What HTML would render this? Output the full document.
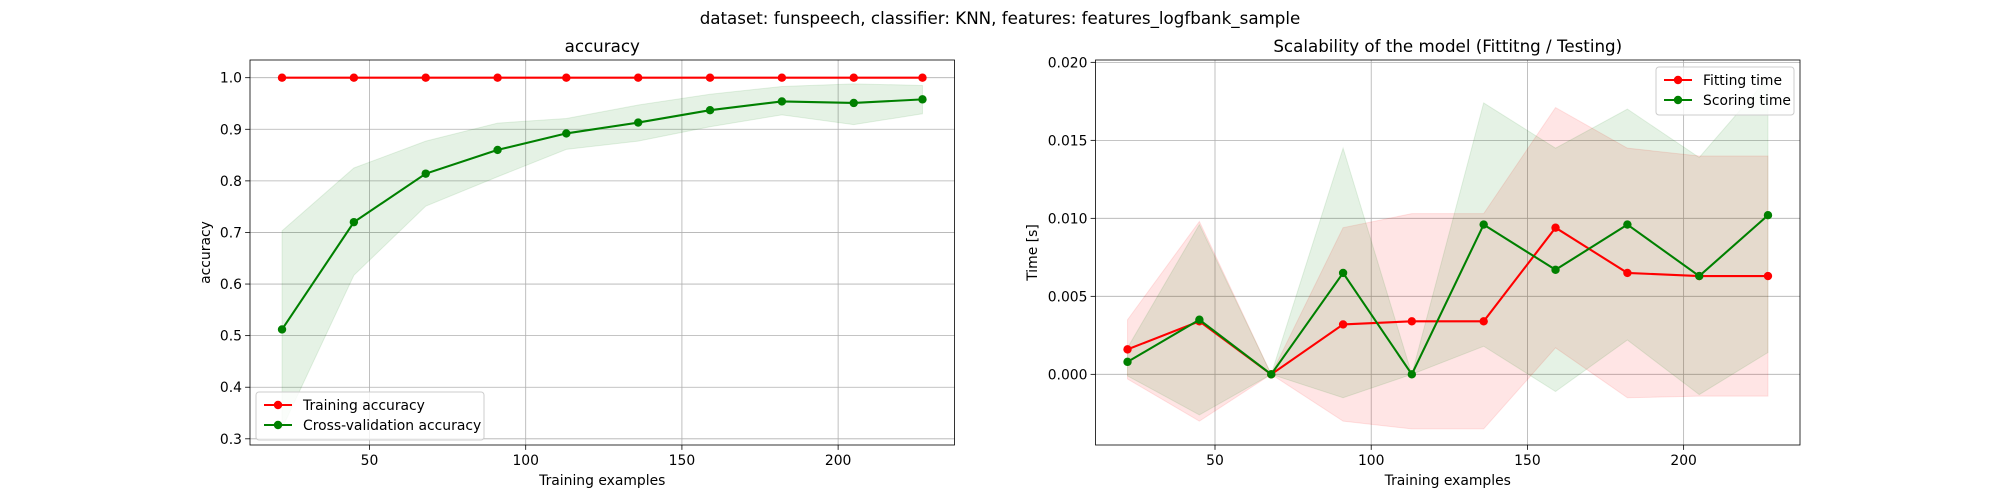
<!DOCTYPE html>
<html><head><meta charset="utf-8"><style>
body{margin:0;background:#fff;}
svg{display:block;font-family:"DejaVu Sans","Liberation Sans",sans-serif;}
</style></head><body>
<svg id="fig" width="2000" height="500" xmlns="http://www.w3.org/2000/svg">
<text x="1000" y="24" text-anchor="middle" font-size="16.7">dataset: funspeech, classifier: KNN, features: features_logfbank_sample</text>
</svg>
<script>
const sizes=[22,45,68,91,113,136,159,182,205,227];
const trainAcc=[1,1,1,1,1,1,1,1,1,1];
const trainUp=[1,1,1,1,1,1,1,1,1,1];
const trainLo=[1,1,1,1,1,1,1,1,1,1];
const cvAcc=[0.512,0.72,0.814,0.86,0.892,0.913,0.937,0.954,0.951,0.958];
const cvUp=[0.703,0.825,0.877,0.912,0.921,0.947,0.968,0.983,0.988,0.985];
const cvLo=[0.32,0.617,0.751,0.808,0.861,0.877,0.905,0.928,0.909,0.93];
const fitTime=[0.0016,0.0034,0.0,0.0032,0.0034,0.0034,0.0094,0.0065,0.0063,0.0063];
const fitUp=[0.0035,0.0098,0.0,0.0094,0.0103,0.0103,0.0171,0.0145,0.0140,0.0140];
const fitLo=[-0.0003,-0.003,0.0,-0.003,-0.0035,-0.0035,0.0017,-0.0015,-0.0014,-0.0014];
const scoreTime=[0.0008,0.0035,0.0,0.0065,0.0,0.0096,0.0067,0.0096,0.0063,0.0102];
const scoreUp=[0.0017,0.0096,0.0,0.0145,0.0,0.0174,0.0145,0.0170,0.0139,0.0190];
const scoreLo=[-0.0001,-0.0026,0.0,-0.0015,0.0,0.0018,-0.0011,0.0022,-0.0013,0.0014];
const xTicks=[50,100,150,200];
const accTicks=[0.3,0.4,0.5,0.6,0.7,0.8,0.9,1.0];
const timeTicks=[0,0.005,0.01,0.015,0.02];

const NS="http://www.w3.org/2000/svg";
const svg=document.getElementById('fig');
function el(tag,attrs,parent,txt){const e=document.createElementNS(NS,tag);for(const k in attrs)e.setAttribute(k,attrs[k]);if(txt!==undefined)e.textContent=txt;(parent||svg).appendChild(e);return e;}

function panel(cfg){
  const L=cfg.left,R=cfg.left+704.5,T=60,B=445;
  const sx=v=>L+(v-11.75)/(237.25-11.75)*(R-L);
  const sy=v=>B-(v-cfg.ymin)/(cfg.ymax-cfg.ymin)*(B-T);
  const g=el('g',{});
  
  
  const defs=el('clipPath',{id:cfg.name+'-clip'},g);
  el('rect',{x:L,y:T,width:R-L,height:B-T},defs);
  xTicks.forEach(t=>{
    const gl=el('line',{x1:sx(t),x2:sx(t),y1:T,y2:B,stroke:'#b0b0b0','stroke-width':0.8},g);
    
    
    const tk=el('line',{x1:sx(t),x2:sx(t),y1:B,y2:B+4.9,stroke:'#000','stroke-width':0.8},g);
    
    
    const tl=el('text',{x:sx(t),y:B+20,'text-anchor':'middle','font-size':13.9},g,String(t));
    
    
  });
  cfg.yticks.forEach(t=>{
    const gl=el('line',{x1:L,x2:R,y1:sy(t),y2:sy(t),stroke:'#b0b0b0','stroke-width':0.8},g);
    
    
    const tk=el('line',{x1:L-4.9,x2:L,y1:sy(t),y2:sy(t),stroke:'#000','stroke-width':0.8},g);
    
    
    const tl=el('text',{x:L-8,y:sy(t)+5,'text-anchor':'end','font-size':13.9},g,t.toFixed(cfg.dec));
    
    
  });
  const cg=el('g',{'clip-path':'url(#'+cfg.name+'-clip)'},g);
  cfg.series.forEach(s=>{
    let d='';
    sizes.forEach((x,i)=>{d+=(i?'L':'M')+sx(x)+','+sy(s.up[i]);});
    for(let i=sizes.length-1;i>=0;i--)d+='L'+sx(sizes[i])+','+sy(s.lo[i]);
    const band=el('path',{d:d+'Z',fill:s.color,'fill-opacity':0.1,stroke:s.color,'stroke-opacity':0.1},cg);
    
    
  });
  cfg.series.forEach(s=>{
    const pts=sizes.map((x,i)=>sx(x)+','+sy(s.val[i])).join(' ');
    const ln=el('polyline',{points:pts,fill:'none',stroke:s.color,'stroke-width':2.08},cg);
    
    
    sizes.forEach((x,i)=>{
      const c=el('circle',{cx:sx(x),cy:sy(s.val[i]),r:4.2,fill:s.color},cg);
      
      
    });
  });
  const fr=el('rect',{x:L,y:T,width:R-L,height:B-T,fill:'none',stroke:'#000','stroke-width':0.8},g);
  
  
  const ti=el('text',{x:(L+R)/2,y:T-8,'text-anchor':'middle','font-size':16.7},g,cfg.title);
  
  
  const xl=el('text',{x:(L+R)/2,y:485,'text-anchor':'middle','font-size':13.9},g,'Training examples');
  
  
  const yl=el('text',{x:cfg.ylabX,y:(T+B)/2,'text-anchor':'middle','font-size':13.9,transform:'rotate(-90 '+cfg.ylabX+' '+(T+B)/2+')'},g,cfg.ylabel);
  
  
  const lg=el('g',{},g);
  
  
  el('rect',{x:cfg.leg.x,y:cfg.leg.y,width:cfg.leg.w,height:cfg.series.length*20+8,rx:3,fill:'#fff','fill-opacity':0.8,stroke:'#ccc'},lg);
  cfg.series.forEach((s,i)=>{
    const yy=cfg.leg.y+13+i*20, xx=cfg.leg.x+8;
    const e=el('g',{},lg);
    
    
    el('line',{x1:xx,x2:xx+28,y1:yy,y2:yy,stroke:s.color,'stroke-width':2.08},e);
    el('circle',{cx:xx+14,cy:yy,r:4.2,fill:s.color},e);
    el('text',{x:xx+39,y:yy+5,'font-size':13.9},e,s.label);
  });
}
panel({name:'accuracy-panel',left:250,ymin:0.288,ymax:1.0343,yticks:accTicks,dec:1,title:'accuracy',ylabel:'accuracy',ylabX:210,
  leg:{x:256,y:392,w:228},
  series:[{key:'training-accuracy',label:'Training accuracy',color:'#ff0000',val:trainAcc,up:trainUp,lo:trainLo},
          {key:'cv-accuracy',label:'Cross-validation accuracy',color:'#008000',val:cvAcc,up:cvUp,lo:cvLo}]});
panel({name:'scalability-panel',left:1095.5,ymin:-0.00453,ymax:0.02015,yticks:timeTicks,dec:3,title:'Scalability of the model (Fittitng / Testing)',ylabel:'Time [s]',ylabX:1037,
  leg:{x:1656,y:67,w:138},
  series:[{key:'fitting-time',label:'Fitting time',color:'#ff0000',val:fitTime,up:fitUp,lo:fitLo},
          {key:'scoring-time',label:'Scoring time',color:'#008000',val:scoreTime,up:scoreUp,lo:scoreLo}]});
</script>
</body></html>
